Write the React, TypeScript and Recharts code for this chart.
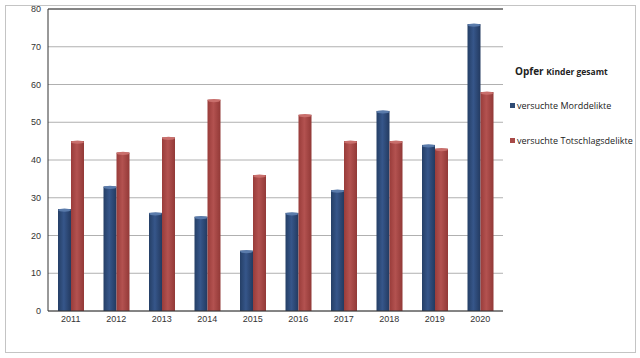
import React from 'react';
import { BarChart, Bar, XAxis, YAxis, CartesianGrid, ReferenceLine } from 'recharts';

const years = ['2011', '2012', '2013', '2014', '2015', '2016', '2017', '2018', '2019', '2020'];
const mord = [27, 33, 26, 25, 16, 26, 32, 53, 44, 76];
const totschlag = [45, 42, 46, 56, 36, 52, 45, 45, 43, 58];
const yTicks = [0, 10, 20, 30, 40, 50, 60, 70, 80];

const data = years.map((y, i) => ({ year: y, mord: mord[i], totschlag: totschlag[i] }));

const legendFont = '"Open Sans", "Noto Sans", sans-serif';
const tickFont = '"Liberation Sans", Arial, sans-serif';

// bar with a light cap on top, like the 3D cylinders of the original
const CylBar = (props: any) => {
  const { x, y, width, height, fill, cap } = props;
  if (!height || height <= 0) return null;
  return (
    <g>
      <rect x={x} y={y} width={width} height={height} fill={fill} />
      <ellipse cx={x + width / 2} cy={y + 1} rx={width / 2} ry={1.6} fill={cap} />
    </g>
  );
};

const MyLegend = () => (
  <div style={{ position: 'absolute', left: 510, top: 64, fontFamily: legendFont, color: '#222' }}>
    <div style={{ fontWeight: 700, fontSize: 10, marginBottom: 21, marginLeft: 5, whiteSpace: 'nowrap' }}>
      Opfer <span style={{ fontSize: 8.5 }}>Kinder gesamt</span>
    </div>
    <div style={{ fontSize: 9, display: 'flex', alignItems: 'center', marginBottom: 22, whiteSpace: 'nowrap' }}>
      <span style={{ width: 5, height: 5, background: '#2f4b74', marginRight: 2, display: 'inline-block' }} />
      versuchte Morddelikte
    </div>
    <div style={{ fontSize: 9, display: 'flex', alignItems: 'center', whiteSpace: 'nowrap' }}>
      <span style={{ width: 5, height: 5, background: '#a84a48', marginRight: 2, display: 'inline-block' }} />
      versuchte Totschlagsdelikte
    </div>
  </div>
);

export default function App() {
  return (
    <div style={{ position: 'absolute', left: 0, top: 0, width: 640, height: 358, background: '#fff' }}>
      <div style={{ position: 'absolute', left: 5, top: 5, width: 629, height: 346, border: '1px solid #c4c4c4' }} />
      <BarChart
        width={640}
        height={358}
        data={data}
        margin={{ top: 9, right: 137, bottom: 27, left: 0 }}
        barSize={13}
        barGap={0}
      >
        <defs>
          <linearGradient id="gBlue" x1="0" y1="0" x2="1" y2="0">
            <stop offset="0%" stopColor="#253f66" />
            <stop offset="45%" stopColor="#36568a" />
            <stop offset="100%" stopColor="#233a60" />
          </linearGradient>
          <linearGradient id="gRed" x1="0" y1="0" x2="1" y2="0">
            <stop offset="0%" stopColor="#993c3a" />
            <stop offset="45%" stopColor="#b35250" />
            <stop offset="100%" stopColor="#923937" />
          </linearGradient>
        </defs>
        <CartesianGrid vertical={false} stroke="#b0b0b0" strokeWidth={1} />
        <XAxis
          dataKey="year"
          tickLine={false}
          tickSize={0}
          tickMargin={5}
          axisLine={{ stroke: '#333' }}
          height={20}
          interval={0}
          tick={{ fontSize: 9, fill: '#333', fontFamily: tickFont }}
        />
        <YAxis
          domain={[0, 80]}
          ticks={yTicks}
          width={48}
          tickLine={false}
          tickSize={0}
          tickMargin={7}
          axisLine={{ stroke: '#333' }}
          tick={{ fontSize: 9, fill: '#333', fontFamily: tickFont }}
        />
        <YAxis yAxisId="right" orientation="right" width={0} tick={false} tickLine={false} axisLine={{ stroke: '#222', strokeWidth: 1 }} />
        <ReferenceLine y={80} stroke="#333" />
        <Bar dataKey="mord" name="versuchte Morddelikte" fill="url(#gBlue)" shape={(p: any) => <CylBar {...p} cap="#5a7bab" />} isAnimationActive={false} />
        <Bar dataKey="totschlag" name="versuchte Totschlagsdelikte" fill="url(#gRed)" shape={(p: any) => <CylBar {...p} cap="#c96f6c" />} isAnimationActive={false} />
      </BarChart>
      <MyLegend />
    </div>
  );
}
